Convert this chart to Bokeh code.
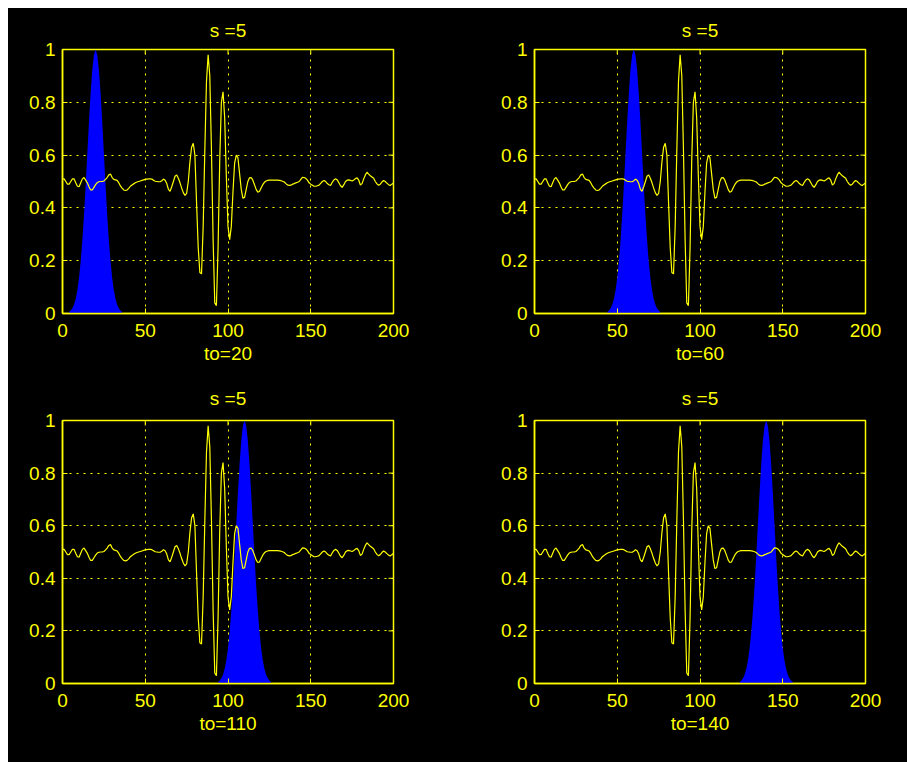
import math
from bokeh.plotting import figure
from bokeh.layouts import column, row, Spacer
from bokeh.models import Range1d, FixedTicker
from bokeh.embed import file_html
from bokeh.resources import INLINE

# ---- data ----
signal = [
    0.51, 0.51, 0.50, 0.49, 0.49, 0.50, 0.51, 0.51, 0.495, 0.482,      # 0-9
    0.48, 0.495, 0.51, 0.515, 0.505, 0.495, 0.48, 0.468, 0.468, 0.478,  # 10-19
    0.488, 0.496, 0.499, 0.5, 0.5, 0.502, 0.508, 0.515, 0.525, 0.528,   # 20-29
    0.515, 0.508, 0.506, 0.504, 0.495, 0.483, 0.475, 0.468, 0.466, 0.468,  # 30-39
    0.474, 0.482, 0.487, 0.491, 0.495, 0.498, 0.5, 0.502, 0.504, 0.506,    # 40-49
    0.508, 0.509, 0.51, 0.51, 0.509, 0.505, 0.501, 0.5, 0.499, 0.499,      # 50-59
    0.503, 0.509, 0.505, 0.492, 0.47, 0.463, 0.48, 0.5, 0.52, 0.525,       # 60-69
    0.512, 0.495, 0.475, 0.458, 0.447, 0.455, 0.50, 0.575, 0.63, 0.645,    # 70-79
    0.6, 0.42, 0.25, 0.155, 0.15, 0.33, 0.62, 0.88, 0.98, 0.9,             # 80-89
    0.62, 0.28, 0.04, 0.03, 0.25, 0.58, 0.8, 0.84, 0.74, 0.52,             # 90-99
    0.33, 0.28, 0.33, 0.46, 0.57, 0.6, 0.59, 0.53, 0.47, 0.437,            # 100-109
    0.44, 0.47, 0.5, 0.514, 0.515, 0.505, 0.488, 0.47, 0.46, 0.462,        # 110-119
    0.475, 0.488, 0.497, 0.502, 0.504, 0.505, 0.505, 0.505, 0.505, 0.505,  # 120-129
    0.505, 0.504, 0.503, 0.501, 0.498, 0.492, 0.487, 0.485, 0.486, 0.49,   # 130-139
    0.492, 0.495, 0.497, 0.5, 0.508, 0.516, 0.515, 0.512, 0.505, 0.495,    # 140-149
    0.49, 0.486, 0.482, 0.482, 0.484, 0.486, 0.493, 0.5, 0.504, 0.5,       # 150-159
    0.492, 0.488, 0.485, 0.497, 0.506, 0.51, 0.506, 0.495, 0.484, 0.478,   # 160-169
    0.488, 0.5, 0.505, 0.506, 0.504, 0.502, 0.506, 0.511, 0.514, 0.505,    # 170-179
    0.487, 0.492, 0.51, 0.525, 0.535, 0.528, 0.522, 0.517, 0.512, 0.5,     # 180-189
    0.491, 0.486, 0.49, 0.498, 0.504, 0.5, 0.494, 0.488, 0.485, 0.49,      # 190-199
    0.494,                                                                 # 200
]
time = list(range(0, 201))

window_offsets = [-16, -15, -14, -13, -12, -11, -10, -9, -8, -7, -6, -5, -4, -3, -2, -1, 0,
                  1, 2, 3, 4, 5, 6, 7, 8, 9, 10, 11, 12, 13, 14, 15, 16]
window_values = [0.006, 0.011, 0.020, 0.034, 0.056, 0.089, 0.135, 0.198, 0.278, 0.375, 0.487,
                 0.607, 0.726, 0.835, 0.923, 0.98, 1.0, 0.98, 0.923, 0.835, 0.726, 0.607,
                 0.487, 0.375, 0.278, 0.198, 0.135, 0.089, 0.056, 0.034, 0.020, 0.011, 0.006]

centers = [20, 60, 110, 140]
titles = ["s =5", "s =5", "s =5", "s =5"]
xlabels = ["to=20", "to=60", "to=110", "to=140"]

xticks = [0, 50, 100, 150, 200]
yticks = [0, 0.2, 0.4, 0.6, 0.8, 1]
ylabels = ["0", "0.2", "0.4", "0.6", "0.8", "1"]

YEL = "#ffff00"
FONT = "Liberation Sans"
FS = "19px"

# layout geometry: (width, height, left, right, top, bottom, title standoff)
geom = [
    (440, 365, 54, 55, 41, 60, 17),
    (459, 365, 86, 42, 41, 60, 17),
    (440, 389, 54, 55, 47, 79, 23),
    (459, 389, 86, 42, 47, 79, 23),
]


def make_panel(i):
    w, h, bl, br, bt, bb, ts = geom[i]
    p = figure(width=w, height=h, output_backend="svg", toolbar_location=None,
               x_range=Range1d(0, 200), y_range=Range1d(0, 1),
               min_border_left=bl, min_border_right=br,
               min_border_top=bt, min_border_bottom=bb,
               background_fill_color="black", border_fill_color="black",
               outline_line_color=YEL, outline_line_width=1.5)
    p.title.text = titles[i]
    p.title.align = "center"
    p.title.text_color = YEL
    p.title.text_font = FONT
    p.title.text_font_size = FS
    p.title.text_font_style = "normal"
    p.title.standoff = ts

    xs = [centers[i] + o for o in window_offsets]
    ys = list(window_values)
    xs = [xs[0]] + xs + [xs[-1]]
    ys = [0] + ys + [0]
    p.patch(xs, ys, fill_color="#0000ff", line_color=None)
    p.line(time, signal, line_color=YEL, line_width=1.2)

    p.xaxis.ticker = FixedTicker(ticks=xticks)
    p.yaxis.ticker = FixedTicker(ticks=yticks)
    p.yaxis.major_label_overrides = {v: s for v, s in zip(yticks, ylabels)}
    p.xaxis.axis_label = xlabels[i]
    for ax in (p.xaxis[0], p.yaxis[0]):
        ax.axis_line_color = YEL
        ax.axis_line_width = 1.5
        ax.major_tick_line_color = YEL
        ax.major_tick_in = 5
        ax.major_tick_out = 0
        ax.minor_tick_line_color = None
        ax.major_label_text_color = YEL
        ax.major_label_text_font = FONT
        ax.major_label_text_font_size = FS
        ax.axis_label_text_color = YEL
        ax.axis_label_text_font = FONT
        ax.axis_label_text_font_size = FS
        ax.axis_label_text_font_style = "normal"
    p.xaxis.major_label_standoff = 10
    p.xaxis.axis_label_standoff = 3
    p.yaxis.major_label_standoff = 7

    # inward tick marks on the top and right edges (outer half clipped by the frame)
    y_top = p.y_range.end
    x_right = p.x_range.end
    p.scatter(xticks, [y_top] * len(xticks), marker="dash", size=10, angle=math.pi / 2,
              line_color=YEL, line_width=1)
    p.scatter([x_right] * len(yticks), yticks, marker="dash", size=10,
              line_color=YEL, line_width=1)

    for g in (p.xgrid[0], p.ygrid[0]):
        g.grid_line_color = YEL
        g.grid_line_dash = "2 5"
        g.grid_line_width = 1
    return p


panels = [make_panel(i) for i in range(4)]
black = {"background-color": "black"}
grid = column(row(panels[0], panels[1], styles=black),
              row(panels[2], panels[3], styles=black), styles=black)
layout = column(Spacer(height=8), row(Spacer(width=8), grid))

open("out.html", "w").write(file_html(layout, INLINE))
